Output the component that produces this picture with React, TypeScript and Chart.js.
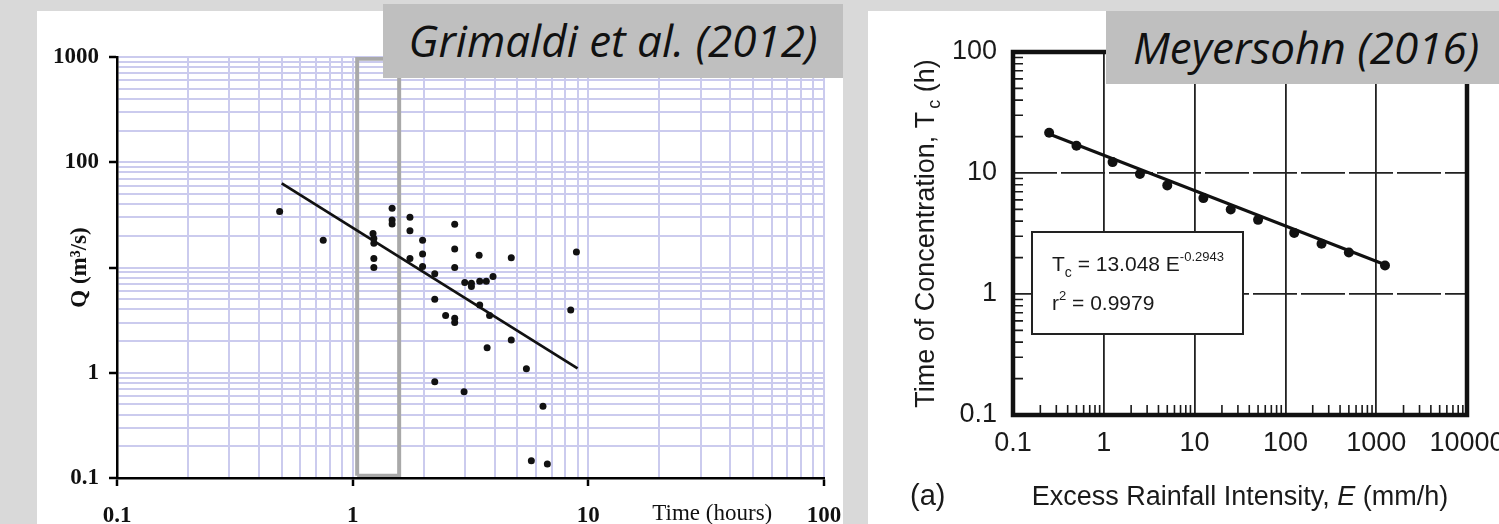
import React, { useEffect, useRef } from "react";
import { Chart, registerables } from "chart.js";

Chart.register(...registerables);

// ---------------- Grimaldi et al. (2012) ----------------
const grimaldiTime = [
  0.49, 0.75, 1.22, 1.23, 1.23, 1.23, 1.23, 1.47, 1.47, 1.47, 1.75, 1.75, 1.75,
  1.98, 1.98, 1.98, 2.23, 2.23, 2.23, 2.71, 2.71, 2.71, 2.48, 2.71, 2.71, 3.44,
  4.71, 8.9, 2.99, 3.19, 3.19, 3.46, 3.69, 3.94, 3.46, 3.81, 4.71, 3.72, 5.46,
  8.42, 2.97, 6.42, 5.73, 6.7,
];
const grimaldiQ = [
  34, 18.2, 21, 18.9, 17, 12.2, 10, 36.5, 28.3, 25.9, 30, 22.4, 12.2, 18.2, 13.4,
  10.2, 8.7, 5.0, 0.82, 25.7, 15, 10, 3.5, 3.3, 3.0, 13.1, 12.4, 14, 7.2, 7.1,
  6.6, 7.4, 7.4, 8.2, 4.4, 3.5, 2.05, 1.73, 1.09, 3.95, 0.66, 0.48, 0.146, 0.136,
];
const grimaldiFitTime = [0.5, 9.0];
const grimaldiFitQ = [63, 1.1];
const windowTime = [1.045, 1.045, 1.575, 1.575, 1.045];
const windowQ = [0.105, 960, 960, 0.105, 0.105];
const grimaldiXLabels = [0.1, 1, 10, 100];
const grimaldiYLabels = [0.1, 1, 100, 1000];

// ---------------- Meyersohn (2016) ----------------
const excessRain = [0.25, 0.5, 1.25, 2.5, 5, 12.5, 25, 50, 125, 250, 500, 1250];
const tcHours = [21.5, 16.8, 12.3, 9.8, 7.9, 6.2, 5.0, 4.1, 3.2, 2.6, 2.2, 1.72];
const fitE = [0.25, 1320];
const fitTc = [21, 1.72];
const meyXTicks = [0.1, 1, 10, 100, 1000, 10000];
const meyYTicks = [0.1, 1, 10, 100];

const near = (a: number, b: number) => Math.abs(a - b) < 1e-9 * Math.max(1, b);
const isMajor = (v: number) => {
  const l = Math.log10(v);
  return Math.abs(l - Math.round(l)) < 1e-6;
};
const fmt = (v: number) => (v < 1 ? v.toFixed(1) : String(Math.round(v)));
function logTicks(min: number, max: number) {
  const out: number[] = [];
  const e0 = Math.round(Math.log10(min));
  const e1 = Math.round(Math.log10(max));
  for (let e = e0; e < e1; e++) {
    for (let m = 1; m < 10; m++) out.push(parseFloat((m * Math.pow(10, e)).toPrecision(6)));
  }
  out.push(max);
  return out;
}

const serif = '"Liberation Serif", "DejaVu Serif", serif';
const sans = '"Liberation Sans", Arial, sans-serif';

const grimaldiText = {
  id: "grimaldiText",
  afterDraw(chart: any) {
    const { ctx, chartArea, scales } = chart;
    ctx.save();
    ctx.font = `23px ${serif}`;
    ctx.fillStyle = "#111";
    ctx.textBaseline = "alphabetic";
    ctx.textAlign = "left";
    ctx.fillText("Time (hours)", scales.x.getPixelForValue(10) + 64, chartArea.bottom + 42);
    ctx.restore();
  },
};

function GrimaldiChart() {
  const ref = useRef<HTMLCanvasElement>(null);
  useEffect(() => {
    const lavender = "#cbcbee";
    const grid = {
      color: lavender,
      lineWidth: 2,
      drawTicks: true,
      tickLength: 8,
      tickWidth: 2.5,
      tickColor: (c: any) => (c.tick && isMajor(c.tick.value) ? "#000" : "rgba(0,0,0,0)"),
    };
    const chart = new Chart(ref.current!, {
      type: "scatter",
      data: {
        datasets: [
          {
            data: windowTime.map((x, i) => ({ x, y: windowQ[i] })),
            showLine: true,
            borderColor: "#a9a9a9",
            borderWidth: 4,
            pointRadius: 0,
            borderJoinStyle: "miter",
            order: 3,
          },
          {
            data: grimaldiFitTime.map((x, i) => ({ x, y: grimaldiFitQ[i] })),
            showLine: true,
            borderColor: "#111",
            borderWidth: 2.8,
            pointRadius: 0,
            order: 2,
          },
          {
            data: grimaldiTime.map((x, i) => ({ x, y: grimaldiQ[i] })),
            pointRadius: 3.5,
            pointBackgroundColor: "#111",
            pointBorderWidth: 0,
            order: 1,
          },
        ],
      } as any,
      options: {
        animation: false,
        responsive: false,
        events: [],
        layout: { padding: { left: 0, right: 63, top: 46, bottom: 0 } },
        plugins: { legend: { display: false }, tooltip: { enabled: false } },
        scales: {
          x: {
            type: "logarithmic",
            min: 0.1,
            max: 100,
            afterBuildTicks: (s: any) => {
              s.ticks = logTicks(0.1, 100).map((v) => ({ value: v, major: isMajor(v) }));
            },
            afterFit: (s: any) => {
              s.height = 46;
            },
            grid,
            border: { display: true, color: "#000", width: 2.5, z: 1 },
            ticks: {
              autoSkip: false,
              maxRotation: 0,
              minRotation: 0,
              padding: 16,
              color: "#111",
              font: { family: serif, size: 23, weight: "bold" },
              callback: (v: any) => (grimaldiXLabels.some((t) => near(+v, t)) ? fmt(+v) : ""),
            },
          },
          y: {
            type: "logarithmic",
            min: 0.1,
            max: 1000,
            afterBuildTicks: (s: any) => {
              s.ticks = logTicks(0.1, 1000).map((v) => ({ value: v, major: isMajor(v) }));
            },
            afterFit: (s: any) => {
              s.width = 80;
            },
            grid,
            border: { display: true, color: "#000", width: 2.5, z: 1 },
            ticks: {
              autoSkip: false,
              padding: 10,
              color: "#111",
              font: { family: serif, size: 23, weight: "bold" },
              callback: (v: any) => (grimaldiYLabels.some((t) => near(+v, t)) ? fmt(+v) : ""),
            },
            title: {
              display: true,
              text: "Q (m³/s)",
              color: "#111",
              font: { family: serif, size: 23, weight: "bold" },
              padding: { top: 29, bottom: 0 },
            },
          },
        },
      } as any,
      plugins: [grimaldiText],
    });
    return () => chart.destroy();
  }, []);
  return <canvas ref={ref} width={850} height={513} style={{ display: "block", width: 850, height: 513 }} />;
}

const meyDecor = {
  id: "meyDecor",
  beforeDatasetsDraw(chart: any) {
    const { ctx, chartArea: a, scales } = chart;
    const { x, y } = scales;
    ctx.save();
    ctx.strokeStyle = "#1a1a1a";
    ctx.lineWidth = 1.6;
    ctx.beginPath();
    for (let e = -1; e < 2; e++)
      for (let m = 2; m < 10; m++) {
        const py = y.getPixelForValue(m * Math.pow(10, e));
        ctx.moveTo(a.left, py);
        ctx.lineTo(a.left + 10, py);
      }
    for (let e = -1; e < 4; e++)
      for (let m = 2; m < 10; m++) {
        const px = x.getPixelForValue(m * Math.pow(10, e));
        ctx.moveTo(px, a.bottom);
        ctx.lineTo(px, a.bottom - 10);
      }
    ctx.stroke();
    ctx.lineWidth = 4.5;
    ctx.strokeStyle = "#111";
    ctx.strokeRect(a.left, a.top, a.right - a.left, a.bottom - a.top);
    ctx.restore();
  },
  afterDraw(chart: any) {
    const { ctx, chartArea: a } = chart;
    const col = "#1a1a1a";
    ctx.save();
    ctx.fillStyle = col;
    ctx.textBaseline = "alphabetic";
    ctx.textAlign = "left";

    // legend box
    const bx = a.left + 19;
    const by = a.top + 180;
    ctx.fillStyle = "#fff";
    ctx.fillRect(bx, by, 211, 102);
    ctx.strokeStyle = "#222";
    ctx.lineWidth = 2;
    ctx.strokeRect(bx, by, 211, 102);
    ctx.fillStyle = col;
    const f21 = `21px ${sans}`;
    const f14 = `14px ${sans}`;
    const f13 = `13px ${sans}`;
    let tx = bx + 20;
    const b1 = by + 39;
    ctx.font = f21;
    ctx.fillText("T", tx, b1);
    tx += ctx.measureText("T").width;
    ctx.font = f14;
    ctx.fillText("c", tx, b1 + 6);
    tx += ctx.measureText("c").width;
    ctx.font = f21;
    ctx.fillText(" = 13.048 E", tx, b1);
    tx += ctx.measureText(" = 13.048 E").width;
    ctx.font = f13;
    ctx.fillText("-0.2943", tx, b1 - 10);
    tx = bx + 20;
    const b2 = by + 78;
    ctx.font = f21;
    ctx.fillText("r", tx, b2);
    tx += ctx.measureText("r").width;
    ctx.font = f13;
    ctx.fillText("2", tx, b2 - 10);
    tx += ctx.measureText("2").width;
    ctx.font = f21;
    ctx.fillText(" = 0.9979", tx, b2);

    // x title
    const big = `27px ${sans}`;
    const bigI = `italic 27px ${sans}`;
    const p1 = "Excess Rainfall Intensity, ";
    const p2 = "E";
    const p3 = " (mm/h)";
    ctx.font = big;
    const w1 = ctx.measureText(p1).width;
    const w3 = ctx.measureText(p3).width;
    ctx.font = bigI;
    const w2 = ctx.measureText(p2).width;
    let sx = (a.left + a.right) / 2 - (w1 + w2 + w3) / 2;
    const xb = a.bottom + 90;
    ctx.font = big;
    ctx.fillText(p1, sx, xb);
    sx += w1;
    ctx.font = bigI;
    ctx.fillText(p2, sx, xb);
    sx += w2;
    ctx.font = big;
    ctx.fillText(p3, sx, xb);

    // (a)
    ctx.font = `29px ${sans}`;
    ctx.fillText("(a)", a.left - 103, xb);

    // y title
    ctx.translate(a.left - 89, (a.top + a.bottom) / 2);
    ctx.rotate(-Math.PI / 2);
    const q1 = "Time of Concentration, T";
    const q2 = "c";
    const q3 = " (h)";
    ctx.font = big;
    const v1 = ctx.measureText(q1).width;
    const v3 = ctx.measureText(q3).width;
    ctx.font = `18px ${sans}`;
    const v2 = ctx.measureText(q2).width + 3;
    let yx = -(v1 + v2 + v3) / 2;
    const base = 9.7;
    ctx.font = big;
    ctx.fillText(q1, yx, base);
    yx += v1;
    ctx.font = `18px ${sans}`;
    ctx.fillText(q2, yx + 3, base + 6);
    yx += v2;
    ctx.font = big;
    ctx.fillText(q3, yx, base);
    ctx.restore();
  },
};

function MeyersohnChart() {
  const ref = useRef<HTMLCanvasElement>(null);
  useEffect(() => {
    const chart = new Chart(ref.current!, {
      type: "scatter",
      data: {
        datasets: [
          {
            data: fitE.map((x, i) => ({ x, y: fitTc[i] })),
            showLine: true,
            borderColor: "#111",
            borderWidth: 3,
            pointRadius: 0,
            order: 2,
          },
          {
            data: excessRain.map((x, i) => ({ x, y: tcHours[i] })),
            pointRadius: 5,
            pointBackgroundColor: "#111",
            pointBorderWidth: 0,
            order: 1,
          },
        ],
      } as any,
      options: {
        animation: false,
        responsive: false,
        events: [],
        layout: { padding: { left: 0, right: 81, top: 41, bottom: 0 } },
        plugins: { legend: { display: false }, tooltip: { enabled: false } },
        scales: {
          x: {
            type: "logarithmic",
            min: 0.1,
            max: 10000,
            afterBuildTicks: (s: any) => {
              s.ticks = meyXTicks.map((v) => ({ value: v, major: true }));
            },
            afterFit: (s: any) => {
              s.height = 109;
            },
            grid: { color: "#222", lineWidth: 1.8, drawTicks: false },
            border: { display: false },
            ticks: {
              autoSkip: false,
              maxRotation: 0,
              minRotation: 0,
              padding: 12,
              color: "#1a1a1a",
              font: { family: sans, size: 27 },
              callback: (v: any) => fmt(+v),
            },
          },
          y: {
            type: "logarithmic",
            min: 0.1,
            max: 100,
            afterBuildTicks: (s: any) => {
              s.ticks = meyYTicks.map((v) => ({ value: v, major: true }));
            },
            afterFit: (s: any) => {
              s.width = 145;
            },
            grid: { color: "#222", lineWidth: 1.8, drawTicks: false },
            border: { display: false, dash: [44, 4] },
            ticks: {
              autoSkip: false,
              padding: 16,
              color: "#1a1a1a",
              font: { family: sans, size: 27 },
              callback: (v: any) => fmt(+v),
            },
          },
        },
      } as any,
      plugins: [meyDecor],
    });
    return () => chart.destroy();
  }, []);
  return <canvas ref={ref} width={680} height={513} style={{ display: "block", width: 680, height: 513 }} />;
}

const labelFont: React.CSSProperties = {
  fontFamily: '"Open Sans", "Noto Sans", sans-serif',
  fontStyle: "italic",
  fontSize: 44,
  color: "#111",
  whiteSpace: "nowrap",
  background: "#bfbfbf",
  position: "absolute",
  overflow: "hidden",
};

export default function App() {
  return (
    <div
      style={{
        position: "absolute",
        left: 0,
        top: 0,
        width: 1499,
        height: 524,
        background: "#d9d9d9",
        overflow: "hidden",
      }}
    >
      <div
        style={{
          position: "absolute",
          left: 37,
          top: 11,
          width: 806,
          height: 513,
          background: "#fff",
          overflow: "hidden",
        }}
      >
        <GrimaldiChart />
      </div>
      <div
        style={{
          position: "absolute",
          left: 868,
          top: 11,
          width: 631,
          height: 513,
          background: "#fff",
          overflow: "hidden",
        }}
      >
        <MeyersohnChart />
      </div>
      <div
        style={{
          ...labelFont,
          left: 383,
          top: 4,
          width: 460,
          height: 74,
          lineHeight: "72px",
          textAlign: "center",
        }}
      >
        Grimaldi et al. (2012)
      </div>
      <div
        style={{
          ...labelFont,
          left: 1106,
          top: 11,
          width: 393 - 27,
          paddingLeft: 27,
          height: 73,
          lineHeight: "72px",
          textAlign: "left",
        }}
      >
        Meyersohn (2016)
      </div>
    </div>
  );
}
